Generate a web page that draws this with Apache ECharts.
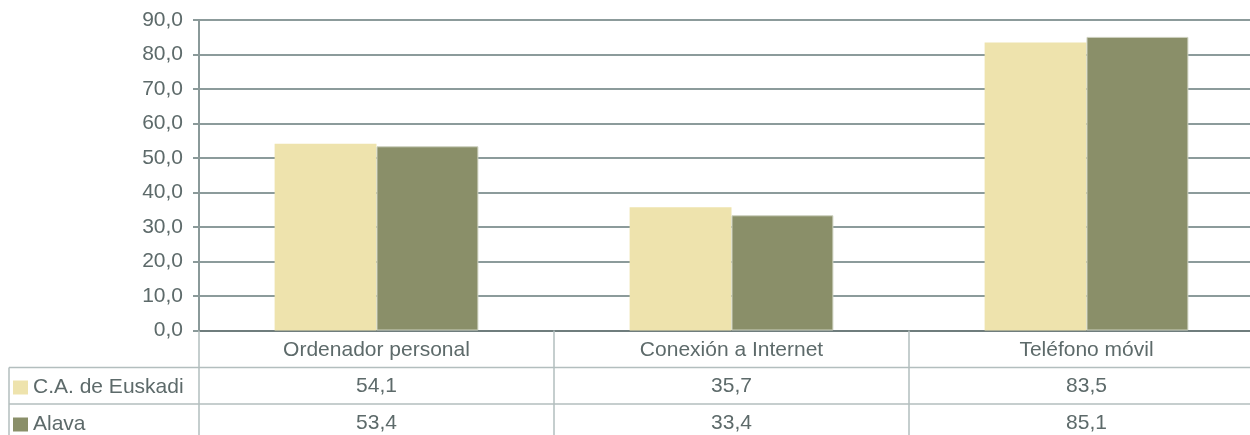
<!DOCTYPE html>
<html>
<head>
<meta charset="utf-8">
<script src="https://cdn.jsdelivr.net/npm/echarts@6/dist/echarts.min.js"></script>
<style>
  html, body { margin: 0; padding: 0; background: #fff; }
  #main { width: 1250px; height: 435px; }
</style>
</head>
<body>
<div id="main"></div>
<script>
// datos
var categories = ['Ordenador personal', 'Conexión a Internet', 'Teléfono móvil'];
var seriesNames = ['C.A. de Euskadi', 'Alava'];
var euskadi = [54.1, 35.7, 83.5];
var alava = [53.4, 33.4, 85.1];
var yTicks = { min: 0, max: 90, interval: 10 };

var textColor = '#5d6a6a';
var tableLine = '#b3bebe';

function fmt(v) {
  return v.toFixed(1).replace('.', ',');
}

function legendRow(name, top) {
  return {
    left: 13,
    top: top,
    padding: 0,
    icon: 'rect',
    itemWidth: 15,
    itemHeight: 14,
    selectedMode: false,
    itemStyle: { borderWidth: 0 },
    textStyle: { color: textColor, fontSize: 21 },
    data: [name]
  };
}

var chart = echarts.init(document.getElementById('main'));

var option = {
  animation: false,
  textStyle: { fontFamily: 'Liberation Sans, Arial, sans-serif' },
  color: ['#EEE3AD', '#8A8F69'],
  grid: { left: 199, top: 20, width: 1065, height: 310.5, containLabel: false, outerBoundsMode: 'none' },
  legend: [legendRow(seriesNames[0], 377), legendRow(seriesNames[1], 414)],
  xAxis: {
    type: 'category',
    data: categories,
    axisLine: { lineStyle: { color: '#6f7d7d', width: 2 } },
    axisTick: { show: true, length: 105, lineStyle: { color: tableLine, width: 1.5 } },
    axisLabel: {
      margin: 1,
      color: textColor,
      fontSize: 21,
      lineHeight: 36.5,
      interval: 0,
      formatter: function (name, i) {
        return name + '\n' + fmt(euskadi[i]) + '\n' + fmt(alava[i]);
      }
    }
  },
  yAxis: {
    type: 'value',
    min: yTicks.min,
    max: yTicks.max,
    interval: yTicks.interval,
    axisLine: { show: true, lineStyle: { color: '#8a9999', width: 2 } },
    axisTick: { show: true, length: 6, lineStyle: { color: '#8a9999', width: 2 } },
    axisLabel: { margin: 16, color: textColor, fontSize: 21, formatter: fmt },
    splitLine: { lineStyle: { color: '#8c9b9b', width: 2 } }
  },
  series: [
    {
      name: seriesNames[0],
      type: 'bar',
      data: euskadi,
      barWidth: '28.7%',
      barGap: '0%'
    },
    {
      name: seriesNames[1],
      type: 'bar',
      data: alava,
      barWidth: '28.7%',
      barGap: '0%',
      itemStyle: { borderColor: '#cdd1bf', borderWidth: 1 }
    }
  ],
  // lineas de la tabla de datos
  graphic: [
    { type: 'line', shape: { x1: 9, y1: 367.5, x2: 1250, y2: 367.5 }, style: { stroke: tableLine, lineWidth: 1.5 } },
    { type: 'line', shape: { x1: 9, y1: 404, x2: 1250, y2: 404 }, style: { stroke: tableLine, lineWidth: 1.5 } },
    { type: 'line', shape: { x1: 9, y1: 367.5, x2: 9, y2: 435 }, style: { stroke: tableLine, lineWidth: 1.5 } }
  ]
};

chart.setOption(option);
</script>
</body>
</html>
